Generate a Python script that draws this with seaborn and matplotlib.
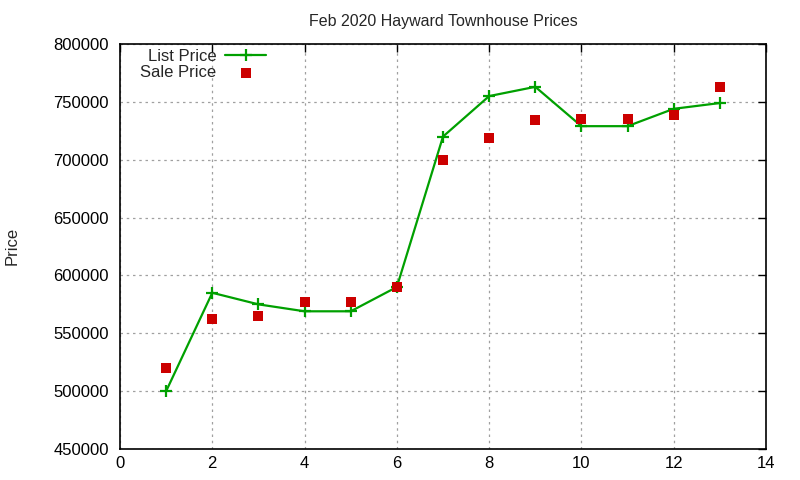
"""
Feb 2020 Hayward townhouse prices: list price (line) vs sale price (points).
"""
import numpy  as np
import pandas as pd
import matplotlib
matplotlib.use("Agg")
import matplotlib.pyplot as plt
import seaborn           as sns

# ================================================================================
# Data
# ================================================================================
house_idx   = [1, 2, 3, 4, 5, 6, 7, 8, 9, 10, 11, 12, 13]
list_price  = [500000, 585000, 575000, 569000, 569000, 590000, 720000,
               755000, 763000, 729000, 729000, 744000, 749000]
sale_price  = [520000, 562000, 565000, 577000, 577000, 590000, 700000,
               719000, 734000, 735000, 735000, 739000, 763000]
x_ticks     = [0, 2, 4, 6, 8, 10, 12, 14]
y_ticks     = [450000, 500000, 550000, 600000, 650000, 700000, 750000, 800000]

df = pd.DataFrame({"idx": house_idx, "List Price": list_price, "Sale Price": sale_price})

# ================================================================================
# Style
# ================================================================================
sns.set_style("white")
plt.rcParams["font.family"] = ["Liberation Sans", "DejaVu Sans"]
FONT_SIZE  = 12
LINE_GREEN = "#00a000"
SQ_RED     = "#cc0000"

fig = plt.figure(figsize=(8, 4.8), dpi=100)
ax  = fig.add_axes([0.15, 0.0646, 0.8075, 0.8437])

# ================================================================================
# Plot
# ================================================================================
sns.lineplot(data=df, x="idx", y="List Price", ax=ax, color=LINE_GREEN,
             linewidth=1.6, marker="+", markersize=8, markeredgewidth=1.6,
             markeredgecolor=LINE_GREEN, label="List Price")
sns.scatterplot(data=df, x="idx", y="Sale Price", ax=ax, color=SQ_RED,
                marker="s", s=45, linewidth=0, label="Sale Price", zorder=3)

# --------------------------------------------------------------------------------
# Axes & grid
# --------------------------------------------------------------------------------
ax.set_xlim(0, 14); ax.set_ylim(450000, 800000)
ax.set_xticks(x_ticks); ax.set_yticks(y_ticks)
ax.set_xticklabels([str(t) for t in x_ticks])
ax.set_yticklabels([str(t) for t in y_ticks])
ax.tick_params(axis="both", direction="in", length=6, width=1, top=True, right=True,
               labelsize=FONT_SIZE, colors="black")
ax.tick_params(axis="y", pad=8)
ax.tick_params(axis="x", pad=5)
ax.grid(True, linestyle=(0, (2, 3)), color="#a0a0a0", linewidth=0.9)
for sp in ax.spines.values():
    sp.set_color("black"); sp.set_linewidth(1.2)

ax.set_xlabel(""); ax.set_ylabel("")
fig.text(0.015, 0.4875, "Price", rotation=90, va="center", ha="center", fontsize=FONT_SIZE)
ax.set_title("Feb 2020 Hayward Townhouse Prices", fontsize=FONT_SIZE * 0.96, pad=13)

# Legend: gnuplot-like (text right-aligned, sample to the right, no frame)
ax.legend(loc="upper left", frameon=False, markerfirst=False, fontsize=FONT_SIZE,
          handlelength=2.5, borderpad=0.1, labelspacing=0.05,
          bbox_to_anchor=(0.016, 1.012), handletextpad=0.5, alignment="right")

fig.savefig("out.png", dpi=100)
